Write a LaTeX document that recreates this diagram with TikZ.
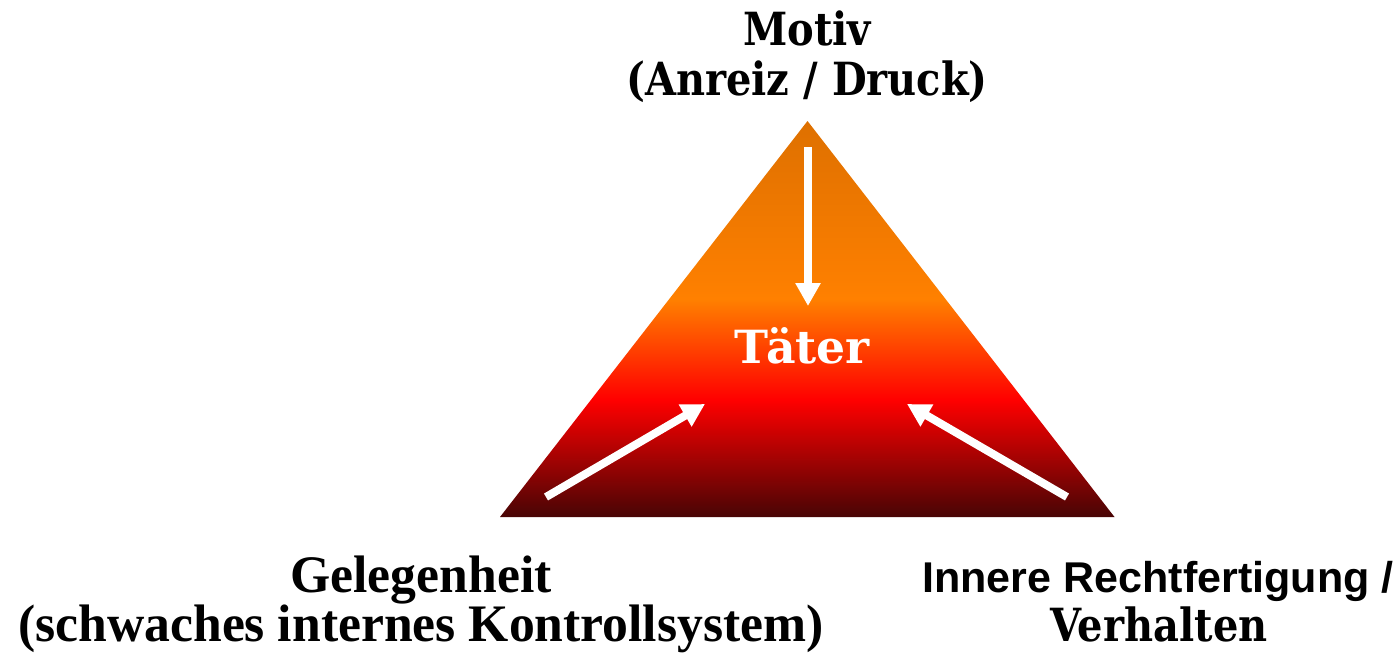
\documentclass[tikz,border=0pt]{standalone}
\usepackage{fontspec}
\setmainfont{DejaVu Serif}
\newfontfamily\slabfont[FakeStretch=0.875]{DejaVu Serif}
\newfontfamily\arialfont{Liberation Sans}
\newfontfamily\narrowfont[FakeStretch=0.98]{Liberation Serif}
\usetikzlibrary{arrows.meta}
\definecolor{tritop}{RGB}{222,112,0}
\definecolor{triorange}{RGB}{255,128,0}
\definecolor{trired}{RGB}{255,0,0}
\definecolor{tribottom}{RGB}{72,5,5}
\pgfdeclareverticalshading{fraudshade}{100bp}{color(0bp)=(tribottom); color(25bp)=(tribottom); color(39.8bp)=(trired); color(52.5bp)=(triorange); color(75bp)=(tritop); color(100bp)=(tritop)}
\tikzset{
  lbl/.style={font=\bfseries\fontsize{26}{31}\selectfont,anchor=base,inner sep=0pt},
  slablbl/.style={lbl,font=\slabfont\bfseries\fontsize{26}{31}\selectfont},
  narrowlbl/.style={lbl,font=\narrowfont\bfseries\fontsize{30}{36}\selectfont},
  sanslbl/.style={lbl,font=\arialfont\bfseries\fontsize{24.5}{29}\selectfont},
  push/.style={white,line width=1.6mm,-{Triangle[length=4.6mm,width=4.8mm]}}
}

\begin{document}
\begin{tikzpicture}[x=0.2mm,y=-0.2mm]
\useasboundingbox (0,0) rectangle (1396,653);
% triangle
\coordinate (apex) at (807.5,121);
\coordinate (baseL) at (500,517);
\coordinate (baseR) at (1114.5,517);
\shade[shading=fraudshade] (apex) -- (baseR) -- (baseL) -- cycle;
% labels
\node[slablbl] (motiv) at (807,45) {Motiv};
\node[slablbl] (motivsub) at (807,95) {(Anreiz / Druck)};
\node[lbl,white] (taeter) at (802,363) {Täter};
\node[narrowlbl] (chance) at (421,592) {Gelegenheit};
\node[narrowlbl] (chancesub) at (421,641) {(schwaches internes Kontrollsystem)};
\node[sanslbl] (excuse) at (1158,592) {Innere Rechtfertigung /};
\node[slablbl] (excusesub) at (1159,641) {Verhalten};
% arrows
\coordinate (inTop) at (808,147);
\coordinate (outTop) at (808,306);
\coordinate (inLeft) at (546,497);
\coordinate (outLeft) at (705,404);
\coordinate (inRight) at (1067,497);
\coordinate (outRight) at (907,404);
\draw[push] (inTop) -- (outTop);
\draw[push] (inLeft) -- (outLeft);
\draw[push] (inRight) -- (outRight);
\end{tikzpicture}
\end{document}
